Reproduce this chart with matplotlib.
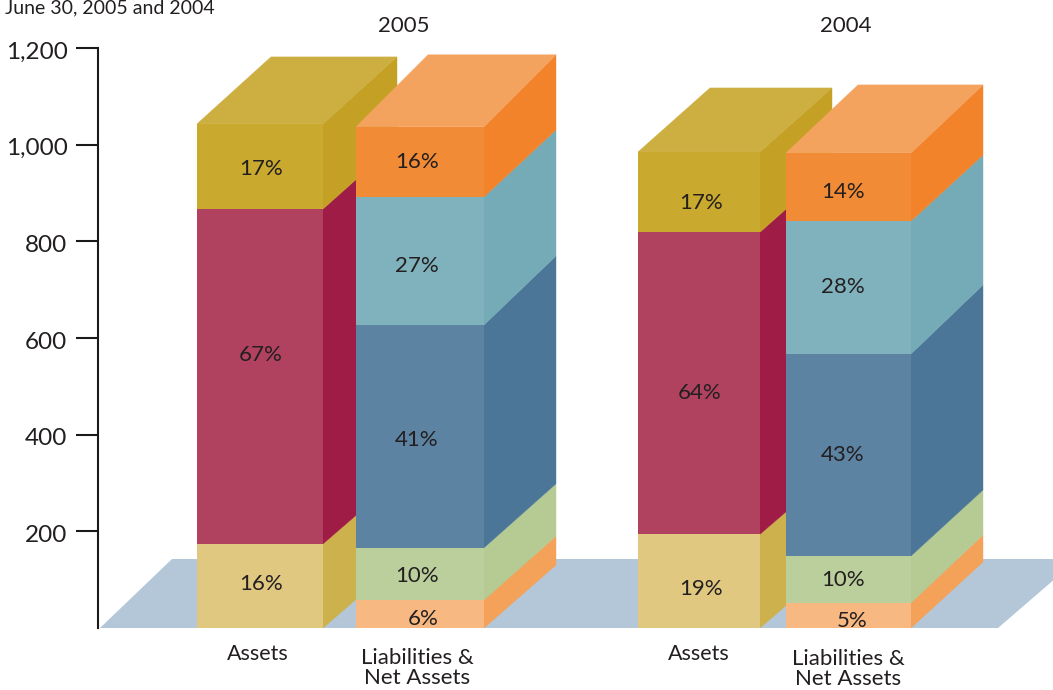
import matplotlib
matplotlib.use("Agg")
import matplotlib.pyplot as plt
from matplotlib.patches import Polygon
from matplotlib.transforms import ScaledTranslation
import numpy as np

plt.rcParams['font.family'] = ['Lato', 'DejaVu Sans']

W, H = 1053, 690
Y0_PX, UNIT_PX = 628.0, 0.4833
TXT = '#231f20'

years = ['2005', '2004']
tick_values = [200, 400, 600, 800, 1000, 1200]
tick_labels = ['200', '400', '600', '800', '1,000', '1,200']

# segment heights, bottom to top
assets_2005 = [174, 693, 176]
liab_2005 = [58, 108, 461, 265, 145]
assets_2004 = [194, 625, 166]
liab_2004 = [52, 97, 418, 275, 141]

pct_assets_2005 = ['16%', '67%', '17%']
pct_liab_2005 = ['6%', '10%', '41%', '27%', '16%']
pct_assets_2004 = ['19%', '64%', '17%']
pct_liab_2004 = ['5%', '10%', '43%', '28%', '14%']

# colours: (front, side)
asset_cols = [('#e0c880', '#cdb14d'), ('#b04260', '#9e1c46'), ('#c9a92e', '#c4a024')]
asset_top = '#cdae40'
liab_cols = [('#f8b881', '#f4a25a'), ('#bbcf9c', '#b5cb93'), ('#5d83a2', '#4c7697'),
             ('#7fb2bc', '#74abb6'), ('#f28b35', '#f3832b')]
liab_top = '#f4a35f'
floor_col = '#b3c7d8'


def v(py):
    """pixel row to value on the y scale"""
    return (Y0_PX - py) / UNIT_PX


fig = plt.figure(figsize=(W / 100, H / 100), dpi=100)
ax = fig.add_axes([0, 0, 1, 1])
ax.set_xlim(0, W)
ax.set_ylim(v(H), v(0))
ax.patch.set_alpha(0)

# floor
ax.add_patch(Polygon([(100, 0), (172, v(559)), (1078, v(559)), (998, 0)],
                     closed=True, fc=floor_col, ec='none', zorder=1))


def block(x0, width, dx, rises, segs, cols, top, z):
    """rises: pixel rise of the depth edge at each segment boundary, bottom to top"""
    dys = np.array(rises) / UNIT_PX
    edges = np.concatenate([[0], np.cumsum(segs)])
    x1 = x0 + width
    for i, (front, side) in enumerate(cols):
        b, t = edges[i], edges[i + 1]
        ax.add_patch(Polygon([(x1, b), (x1 + dx, b + dys[i]), (x1 + dx, t + dys[i + 1]), (x1, t)],
                             closed=True, fc=side, ec=side, lw=0.3, zorder=z))
    total = edges[-1]
    dy = dys[-1]
    ax.add_patch(Polygon([(x0, total), (x0 + dx, total + dy), (x1 + dx, total + dy), (x1, total)],
                         closed=True, fc=top, ec=top, lw=0.3, zorder=z))
    ax.bar(x0, segs, width=width, bottom=edges[:-1], align='edge',
           color=[c[0] for c in cols], linewidth=0, zorder=z + 0.5)


block(197, 126, 74, [64, 64, 66, 67], assets_2005, asset_cols, asset_top, 2)
block(356, 128, 72, [63, 64, 64, 69, 67, 72], liab_2005, liab_cols, liab_top, 3)
block(638, 122, 72, [62, 62, 64, 64], assets_2004, asset_cols, asset_top, 2)
block(786, 125, 72, [66, 68, 66, 69, 66, 68], liab_2004, liab_cols, liab_top, 3)


def labels(xs, rows, texts):
    for x, r, t in zip(xs, rows, texts):
        ax.text(x, v(r + 2), t, ha='center', va='center', fontsize=16, color=TXT, zorder=6)


labels([261, 261, 261], [582, 353, 167], pct_assets_2005)
labels([423, 417, 417, 417, 417], [617, 574, 438, 264, 160], pct_liab_2005)
labels([701, 700, 701], [587, 391, 201], pct_assets_2004)
labels([852, 843, 843, 843, 843], [619, 578, 453, 285, 190], pct_liab_2004)

# category labels
for x, r, t, fs in [(258, 654, 'Assets', 15.5), (417, 668, 'Liabilities &\nNet Assets', 16),
                    (699, 654, 'Assets', 15.5), (848, 669, 'Liabilities &\nNet Assets', 16)]:
    ax.text(x, v(r), t, ha='center', va='center', fontsize=fs, color=TXT, linespacing=1.0)

for x, t in zip([404, 846], years):
    ax.text(x, v(26), t, ha='center', va='center', fontsize=16, color=TXT)

ax.text(215, v(8), 'June 30, 2005 and 2004', ha='right', va='center', fontsize=14, color=TXT)

# axis
for s in ['top', 'right', 'bottom']:
    ax.spines[s].set_visible(False)
ax.spines['left'].set_position(('data', 98))
ax.spines['left'].set_bounds(0, 1200)
ax.spines['left'].set_linewidth(1.5)
ax.spines['left'].set_color('#1a1a1a')
ax.spines['left'].set_zorder(7)
ax.set_xticks([])
ax.set_yticks(tick_values)
ax.set_yticklabels(tick_labels, fontsize=17.5, color=TXT)
ax.tick_params(axis='y', direction='out', length=16, width=1.5, color='#1a1a1a', pad=6)
shift = ScaledTranslation(0, -2 / 100, fig.dpi_scale_trans)
for lab in ax.get_yticklabels():
    lab.set_transform(lab.get_transform() + shift)

fig.savefig('out.png', dpi=100)
